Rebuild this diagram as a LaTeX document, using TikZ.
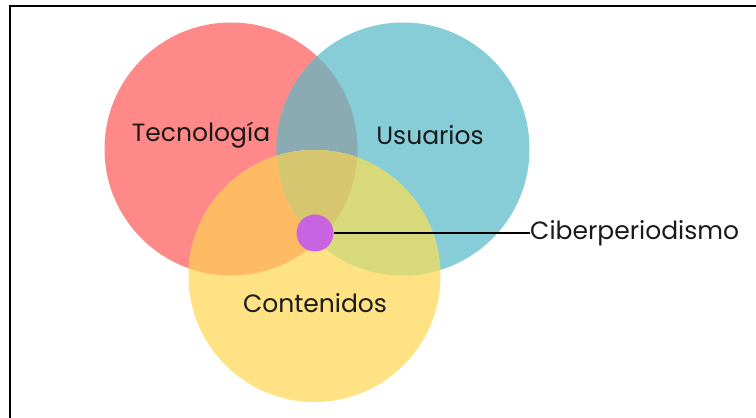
\documentclass[tikz,border=0pt]{standalone}
\usepackage{fontspec}
\setmainfont{Poppins}
\definecolor{cred}{HTML}{FF8888}
\definecolor{cblue}{HTML}{86CDD8}
\definecolor{cyel}{HTML}{FFE283}
\definecolor{crb}{HTML}{8AAAB4}
\definecolor{cry}{HTML}{FFBB64}
\definecolor{cby}{HTML}{D8D97A}
\definecolor{crby}{HTML}{D6C670}
\definecolor{cpur}{HTML}{C864E1}
\definecolor{ctext}{HTML}{1A1A1A}
\tikzset{lbl/.style={font=\fontsize{25}{28}\selectfont, text=ctext, inner sep=0pt}}
\begin{document}
\begin{tikzpicture}[x=1pt,y=-1pt]
\useasboundingbox (0,0) rectangle (756,418);
\def\RED{(231,149) circle (126.5)}
\def\BLUE{(403,149) circle (126.5)}
\def\YEL{(314.5,276) circle (126)}
\fill[cred] \RED;
\fill[cblue] \BLUE;
\begin{scope}\clip \RED; \fill[crb] \BLUE; \end{scope}
\fill[cyel] \YEL;
\begin{scope}\clip \RED; \fill[cry] \YEL; \end{scope}
\begin{scope}\clip \BLUE; \fill[cby] \YEL; \end{scope}
\begin{scope}\clip \RED; \clip \BLUE; \fill[crby] \YEL; \end{scope}
\draw[line width=2, black] (10,418) -- (10,6) -- (756,6);
\node[lbl] (tec) at (201,135) {Tecnología};
\node[lbl] (usu) at (430,135) {Usuarios};
\node[lbl] (con) at (315,303) {Contenidos};
\node[circle, fill=cpur, minimum size=37, inner sep=0pt] (dot) at (315,233) {};
\node[lbl, anchor=west] (cib) at (530,233) {Ciberperiodismo};
\draw[line width=2, black] (dot.east) -- (dot.east -| cib.west);
\end{tikzpicture}
\end{document}
